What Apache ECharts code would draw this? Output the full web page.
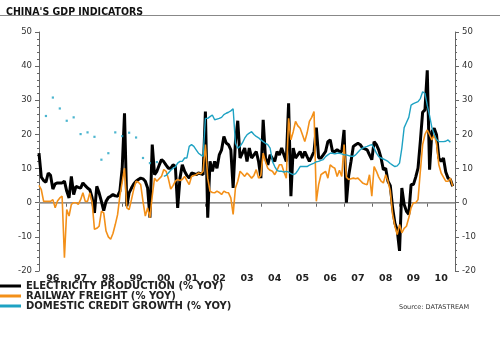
<!DOCTYPE html>
<html><head><meta charset="utf-8">
<script src="https://cdn.jsdelivr.net/npm/echarts@6/dist/echarts.min.js"></script>
<style>html,body{margin:0;padding:0;background:#fff}#c{width:500px;height:338px}</style>
</head><body><div id="c"></div>
<script>
const years = ['96','97','98','99','00','01','02','03','04','05','06','07','08','09','10'];
const yTicks = [-20,-10,0,10,20,30,40,50];
// monthly, Jan 1996 .. Dec 2010
const electricity = [
14.5,7.5,6.5,6.0,8.7,8.0,4.0,5.5,5.8,5.8,5.8,6.3,
3.4,1.4,7.7,2.4,4.8,4.5,4.3,5.8,5.0,4.3,3.8,1.4,
-3.0,4.8,2.9,0.4,-2.3,0.4,1.5,1.9,2.4,2.0,1.9,3.4,
10.1,26.2,-1.0,2.9,4.3,5.5,6.3,6.8,7.2,7.0,6.3,4.3,
-4.4,17.0,8.2,9.2,11.0,12.6,12.0,11.0,10.1,10.1,11.1,10.6,
-1.5,7.2,11.1,9.2,8.0,7.2,8.7,8.5,8.2,8.7,8.5,8.2,
26.7,-4.4,12.1,9.2,12.1,10.1,14.0,15.5,19.4,17.5,17.0,15.5,
4.3,17.9,24.0,13.1,14.5,16.0,12.1,16.0,13.1,14.0,15.0,12.1,
7.2,24.3,13.1,11.1,14.0,13.0,12.1,15.0,14.0,16.0,14.0,12.1,
29.1,1.9,16.0,13.1,14.0,15.0,13.1,15.0,13.5,12.1,13.5,15.0,
22.0,13.1,13.1,14.0,15.0,17.9,18.4,15.0,15.0,15.5,15.0,15.0,
21.3,0.0,8.0,12.1,16.5,17.0,17.4,17.0,16.0,15.8,15.5,14.0,
12.6,17.9,17.0,15.5,13.1,9.7,10.1,6.3,5.0,-1.5,-6.0,-8.0,
-14.1,4.3,-0.5,-2.5,-3.4,5.3,5.3,7.5,10.1,18.0,26.5,27.2,
38.8,9.7,20.8,21.8,19.9,13.1,12.1,13.1,9.0,7.2,6.8,4.8
];
const railway = [
5.1,3.8,0.4,0.4,0.4,0.4,0.9,-1.5,0.5,1.4,1.9,-16.1,
-2.0,-3.9,-0.5,0.0,0.0,-0.5,0.9,2.9,0.4,0.4,2.9,0.0,
-7.8,-7.5,-6.9,-2.5,-3.0,-8.3,-10.0,-10.7,-9.0,-6.4,-3.5,2.0,
6.0,10.1,-1.5,-2.0,0.9,4.0,6.3,6.0,5.3,0.4,-3.9,-1.5,
-4.4,2.0,7.2,6.3,7.0,7.7,9.7,9.2,7.0,4.0,5.0,6.3,
6.8,6.5,6.8,7.7,6.5,5.3,7.7,8.0,8.2,8.7,8.5,9.2,
17.0,7.2,3.4,3.0,2.9,3.4,3.0,2.4,3.4,3.0,2.9,1.4,
-3.4,4.3,6.3,9.2,8.5,7.7,8.7,8.0,7.2,8.0,9.7,7.2,
8.0,14.5,12.0,10.1,9.5,9.2,8.2,9.5,11.1,11.1,9.0,7.2,
24.7,18.4,20.8,23.8,22.5,21.8,19.9,17.9,20.4,23.8,25.0,26.7,
0.4,5.3,8.2,8.7,9.2,7.2,11.1,10.5,10.1,7.7,9.5,7.7,
17.0,7.5,6.8,7.0,7.2,7.0,7.2,6.5,5.8,5.5,5.3,8.2,
1.9,10.6,9.2,7.5,6.3,5.8,8.2,6.3,3.4,-3.4,-6.9,-9.3,
-6.4,-8.8,-7.5,-6.9,-4.4,-1.5,0.0,0.0,0.9,9.2,17.0,20.0,
21.3,19.9,18.4,19.9,17.4,11.1,8.7,7.5,6.3,6.3,7.2,4.8
];
// monthly credit growth from Jul 2000 (month index 54)
const creditStartMonth = 54;
const credit = [
7.7,8.0,8.7,9.5,10.1,10.5,
11.6,12.1,12.1,13.1,13.1,16.5,17.0,16.5,15.5,14.5,14.0,13.6,
24.7,24.7,25.2,25.7,24.3,24.5,24.7,25.0,25.8,26.2,26.5,26.9,
27.5,17.4,16.0,16.5,17.5,18.9,19.9,20.4,20.8,20.0,19.4,19.0,
18.4,17.9,17.4,17.0,16.0,12.1,10.6,9.5,9.2,9.2,9.0,9.2,
9.0,8.5,8.2,8.5,9.5,10.6,10.6,10.6,10.6,11.0,11.3,11.6,
12.0,12.1,12.4,12.6,13.5,14.0,14.5,14.5,14.3,14.5,14.5,14.3,
14.0,14.0,13.8,13.6,13.6,14.0,14.8,15.5,16.0,16.3,16.5,16.8,
17.0,16.0,14.5,13.5,13.1,12.8,12.5,12.1,11.5,11.0,10.6,10.8,
11.6,16.0,22.0,23.5,25.0,28.6,29.0,29.3,29.6,30.5,32.5,32.0,
28.5,25.5,22.0,20.0,18.5,17.9,17.9,17.9,18.0,18.4,17.7
];
// quarterly credit growth points, Apr 1996 .. Apr 2000 (month index 3, step 3)
const creditQStartMonth = 3;
const creditQStep = 3;
const creditQuarterly = [25.4,30.8,27.6,24.0,25.0,20.1,20.6,19.3,12.6,14.5,20.6,19.5,20.5,19.1,13.1,11.6,11.9];

const names = ['ELECTRICITY PRODUCTION (% YOY)','RAILWAY FREIGHT (% YOY)','DOMESTIC CREDIT GROWTH (% YOY)'];
const colors = ['#000000','#f39019','#1ea2c3'];

const eData = electricity.map((v,i)=>[i,v]);
const rData = railway.map((v,i)=>[i,v]);
const cData = credit.map((v,i)=>[creditStartMonth+i,v]);
const qData = creditQuarterly.map((v,i)=>[creditQStartMonth+i*creditQStep,v]);

const FONT = 'DejaVu Sans';
const yAxisCommon = {
  type:'value', min:yTicks[0], max:yTicks[yTicks.length-1], interval:10,
  axisLine:{show:true,lineStyle:{color:'#666',width:1}},
  axisTick:{show:true,length:4,lineStyle:{color:'#666'}},
  minorTick:{show:true,splitNumber:5,length:2,lineStyle:{color:'#666'}},
  splitLine:{show:false},
  axisLabel:{fontFamily:FONT,fontSize:8.5,color:'#333',margin:7}
};

const chart = echarts.init(document.getElementById('c'),null,{renderer:'canvas'});
chart.setOption({
  animation:false,
  backgroundColor:'#fff',
  title:[
    {text:"CHINA'S GDP INDICATORS",left:1,top:2,textStyle:{fontFamily:"'DejaVu Sans Condensed', 'Liberation Sans', sans-serif",fontSize:10.5,fontWeight:'bold',color:'#111'}},
    {text:'Source: DATASTREAM',left:394,top:299,textStyle:{fontFamily:FONT,fontSize:6.5,fontWeight:'normal',color:'#333'}}
  ],
  graphic:[{type:'line',shape:{x1:0,y1:15.5,x2:500,y2:15.5},style:{stroke:'#888',lineWidth:1}}],
  legend:{
    orient:'vertical',left:0,top:281,itemGap:0,itemWidth:21,itemHeight:3,icon:'rect',
    textStyle:{fontFamily:FONT,fontSize:10,fontWeight:'bold',color:'#222',lineHeight:8.5,padding:[0,0,0,0]},
    padding:0,
    data:names
  },
  grid:{left:39,right:45,top:32,bottom:67},
  xAxis:[
    {type:'value',min:0,max:years.length*12,show:false},
    {type:'category',data:years,boundaryGap:true,position:'bottom',offset:1,
     axisLine:{show:true,lineStyle:{color:'#666'}},
     axisTick:{show:true,length:4,alignWithLabel:false,lineStyle:{color:'#666'}},
     axisLabel:{fontFamily:FONT,fontSize:9.5,fontWeight:'bold',color:'#222',margin:2,interval:0},
     splitLine:{show:false}}
  ],
  yAxis:[
    Object.assign({},yAxisCommon,{position:'left'}),
    Object.assign({},yAxisCommon,{position:'right'})
  ],
  series:[
    {name:names[0],type:'line',xAxisIndex:0,yAxisIndex:0,data:eData,showSymbol:false,symbol:'none',
     lineStyle:{color:colors[0],width:3},itemStyle:{color:colors[0]},z:3,
     markLine:{silent:true,symbol:'none',label:{show:false},lineStyle:{color:'#999',width:1.5,type:'solid'},data:[{yAxis:0}],z:1}},
    {name:names[1],type:'line',xAxisIndex:0,yAxisIndex:0,data:rData,showSymbol:false,symbol:'none',
     lineStyle:{color:colors[1],width:1.6},itemStyle:{color:colors[1]},z:4},
    {name:names[2],type:'line',xAxisIndex:0,yAxisIndex:0,data:cData,showSymbol:false,symbol:'none',
     lineStyle:{color:colors[2],width:1.4},itemStyle:{color:colors[2]},z:5},
    {name:names[2],type:'scatter',xAxisIndex:0,yAxisIndex:0,data:qData,symbol:'rect',symbolSize:2.2,
     itemStyle:{color:colors[2]},z:5}
  ]
});
</script></body></html>
